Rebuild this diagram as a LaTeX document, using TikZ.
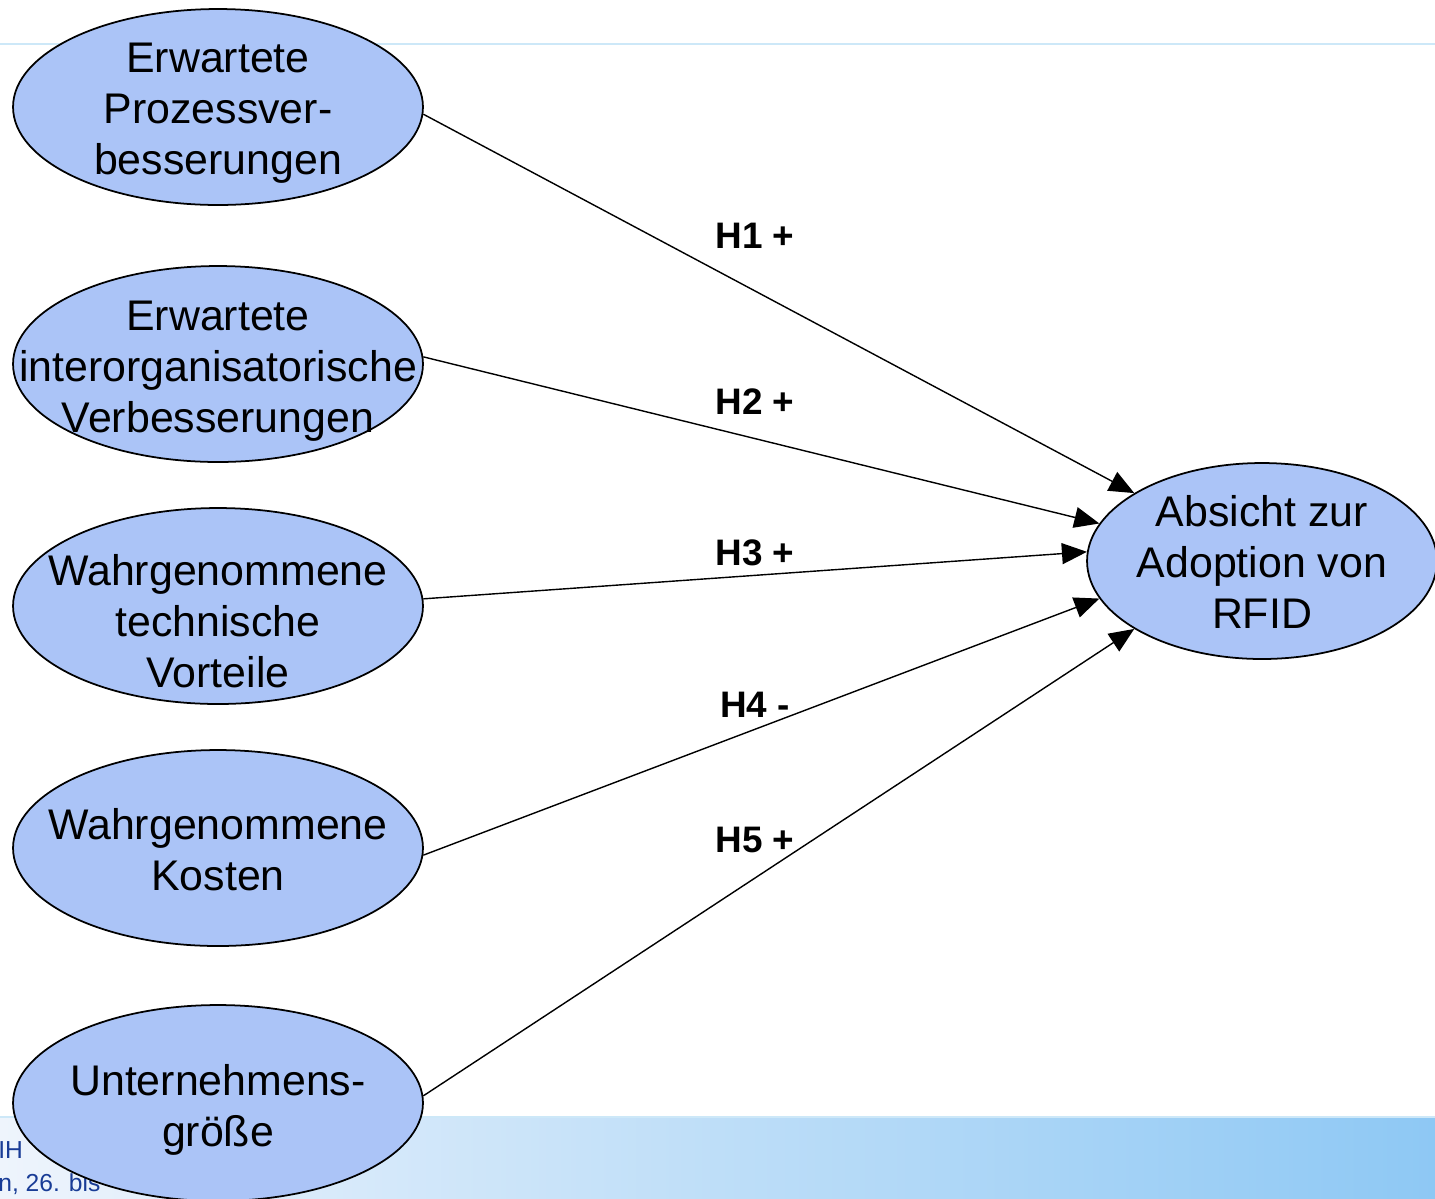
\documentclass[tikz,border=0pt]{standalone}
\usepackage{fontspec}
\setmainfont{Liberation Sans}
\usepackage{xcolor}
\usetikzlibrary{positioning, arrows.meta, shapes.geometric}

\definecolor{ellipsefill}{RGB}{171,196,247}
\definecolor{slideline}{RGB}{205,232,248}
\definecolor{bandleft}{RGB}{238,244,252}
\definecolor{bandright}{RGB}{142,200,244}
\definecolor{footertext}{RGB}{25,60,150}

\begin{document}
\begin{tikzpicture}[
        x=0.02cm, y=-0.02cm,
        factor/.style={ellipse, draw=black, fill=ellipsefill, line width=1pt,
            minimum width=8.2cm, minimum height=3.92cm, inner sep=0pt},
        factortext/.style={align=center, font=\fontsize{24.4}{29}\selectfont, inner sep=0pt},
        path/.style={-{Triangle[length=0.5cm, width=0.42cm]}, line width=0.8pt, black},
        hyp/.style={font=\fontsize{21}{24}\selectfont\bfseries},
        footer/.style={anchor=base west, font=\fontsize{14}{16}\selectfont, color=footertext, inner sep=0pt}
        ]

        % slide background
        \clip (0,0) rectangle (1435,1198);
        \useasboundingbox (0,0) rectangle (1435,1198);
        \fill[white] (0,0) rectangle (1435,1198);
        \draw[slideline, line width=1.2pt] (0,44) -- (1435,44);
        \shade[left color=bandleft, right color=bandright] (0,1117) rectangle (1435,1198);
        \draw[slideline, line width=1.2pt] (0,1117) -- (1435,1117);
        \node[footer] (foot1) at (-2,1158) {IH};
        \node[footer] (foot2) at (-2,1191) {n, 26. bis};

        % constructs
        \node[factor, label={[factortext, yshift=-0.12cm]center:{Erwartete\\Prozessver-\\besserungen}}] (e1) at (218,107) {};
        \node[factor, label={[factortext, yshift=-0.14cm]center:{Erwartete\\interorganisatorische\\Verbesserungen}}] (e2) at (218,364) {};
        \node[factor, label={[factortext, yshift=-0.3cm]center:{Wahrgenommene\\technische\\Vorteile}}] (e3) at (218,606) {};
        \node[factor, label={[factortext, yshift=-0.04cm]center:{Wahrgenommene\\Kosten}}] (e4) at (218,848) {};
        \node[factor, label={[factortext, yshift=-0.14cm]center:{Unternehmens-\\größe}}] (e5) at (218,1103) {};

        % dependent construct
        \node[factor, minimum width=7cm, label={[factortext, yshift=-0.02cm]center:{Absicht zur\\Adoption von\\RFID}}] (adopt) at (1262,561) {};

        % hypotheses
        \draw[path] (e1.-2) -- (adopt.152);
        \draw[path] (e2.2) -- (adopt.167);
        \draw[path] (e3.2) -- (adopt.177);
        \draw[path] (e4.-2) -- (adopt.193);
        \draw[path] (e5.2) -- (adopt.208);
        \node[hyp] (h1) at (755,236) {H1 +};
        \node[hyp] (h2) at (755,402) {H2 +};
        \node[hyp] (h3) at (755,553) {H3 +};
        \node[hyp] (h4) at (755,705) {H4 -};
        \node[hyp] (h5) at (755,840) {H5 +};

    \end{tikzpicture}
\end{document}
